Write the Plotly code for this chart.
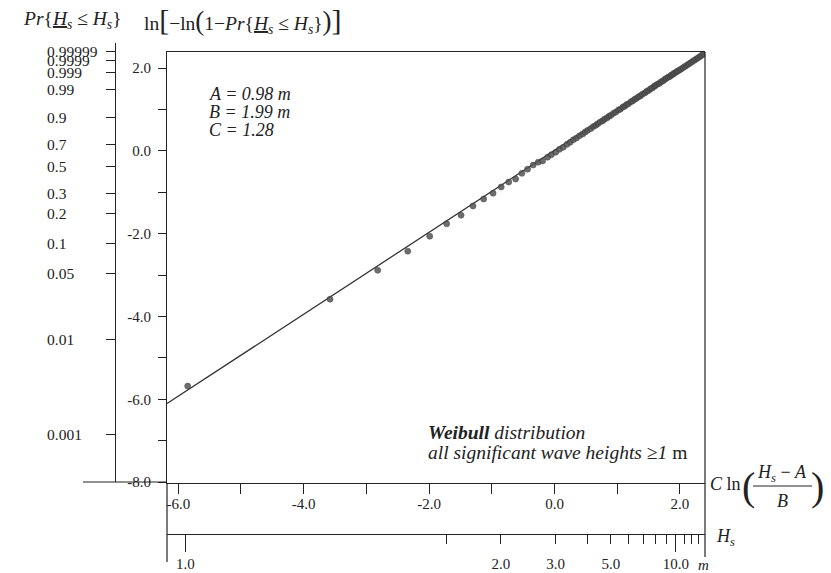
import math
import plotly.graph_objects as go

# ---------------- data ----------------
# Weibull parameters (shown on the chart)
A_PARAM = 0.98
B_PARAM = 1.99
C_PARAM = 1.28

# reduced variate x = C ln((Hs-A)/B) ; y = ln(-ln(1-Pr))
obs_x = [-5.85, -3.58, -2.82, -2.34, -1.99, -1.72, -1.49, -1.30, -1.13, -0.98,
         -0.85, -0.73, -0.62, -0.52, -0.43, -0.34, -0.26,
         -0.19, -0.11, -0.05, 0.02, 0.08, 0.14, 0.20, 0.25, 0.30, 0.35,
         0.40, 0.45, 0.49, 0.53, 0.58, 0.62, 0.66, 0.69, 0.73, 0.77,
         0.80, 0.84, 0.87, 0.90, 0.94, 0.98, 1.02, 1.05, 1.09, 1.12,
         1.15, 1.18, 1.22, 1.25, 1.28, 1.31, 1.34, 1.37, 1.40, 1.44,
         1.47, 1.50, 1.53, 1.56, 1.59, 1.61, 1.64, 1.67, 1.70, 1.73,
         1.76, 1.78, 1.81, 1.84, 1.86, 1.89, 1.91, 1.94, 1.96, 1.99,
         2.02, 2.05, 2.08, 2.11, 2.14, 2.17, 2.20, 2.23, 2.26, 2.29,
         2.32, 2.35, 2.38]
obs_y = [-5.68, -3.58, -2.88, -2.42, -2.06, -1.76, -1.55, -1.33, -1.16, -1.02,
         -0.87, -0.75, -0.68, -0.54, -0.44, -0.34, -0.27,
         -0.24, -0.15, -0.09, -0.03, 0.04, 0.09, 0.16, 0.21, 0.27, 0.31,
         0.37, 0.41, 0.46, 0.50, 0.54, 0.59, 0.62, 0.66, 0.70, 0.73,
         0.77, 0.80, 0.84, 0.86, 0.91, 0.94, 0.99, 1.01, 1.06, 1.08,
         1.12, 1.14, 1.19, 1.21, 1.25, 1.27, 1.31, 1.33, 1.37, 1.40,
         1.44, 1.46, 1.50, 1.52, 1.56, 1.58, 1.61, 1.63, 1.67, 1.69,
         1.73, 1.75, 1.78, 1.80, 1.83, 1.85, 1.88, 1.90, 1.93, 1.95,
         1.98, 2.01, 2.04, 2.07, 2.10, 2.13, 2.16, 2.19, 2.22, 2.25,
         2.28, 2.31, 2.35]

fit_x = [-6.18, 2.40]
fit_y = [-6.10, 2.39]

x_ticks = [-6, -5, -4, -3, -2, -1, 0, 1, 2]
x_ticklabels = ["-6.0", "", "-4.0", "", "-2.0", "", "0.0", "", "2.0"]
y_ticks = [-8, -7, -6, -5, -4, -3, -2, -1, 0, 1, 2]
y_ticklabels = ["-8.0", "", "-6.0", "", "-4.0", "", "-2.0", "", "0.0", "", "2.0"]
prob_labels = ["0.99999", "0.9999", "0.999", "0.99", "0.9", "0.7", "0.5",
               "0.3", "0.2", "0.1", "0.05", "0.01", "0.001"]
hs_ticks = [1.0, 1.5, 2.0, 3.0, 4.0, 5.0, 6.0, 7.0, 8.0, 9.0, 10.0, 11.0, 12.0, 13.0]
hs_labels = ["1.0", "", "2.0", "3.0", "", "5.0", "", "", "", "", "10.0", "", "", ""]
hs_major = [1.0, 10.0]

# ---------------- helpers ----------------
W, H = 831, 573
FONT = "Liberation Serif"
INK = "#222222"


def px(x):
    return x / W


def py(y):
    return 1 - y / H


def weib_x(hs):
    return C_PARAM * math.log((hs - A_PARAM) / B_PARAM)


def prob_y(p):
    return math.log(-math.log(1 - float(p)))


hs_pos = [weib_x(h) for h in hs_ticks]
hs_major_pos = [weib_x(h) for h in hs_major]
prob_pos = [prob_y(p) for p in prob_labels]

XR = [-6.18, 2.40]
YR = [-8.02, 2.39]
YR2 = [-8.08, 2.66]

fig = go.Figure()
fig.add_trace(go.Scatter(x=fit_x, y=fit_y, mode="lines",
                         line=dict(color="#333333", width=1.3),
                         hoverinfo="skip", showlegend=False))
fig.add_trace(go.Scatter(x=obs_x, y=obs_y, mode="markers",
                         marker=dict(size=6, color="#555555", opacity=0.85,
                                     line=dict(width=0.6, color="#333333")),
                         showlegend=False))
# dummy traces so the extra axes are drawn
fig.add_trace(go.Scatter(x=[None], y=[None], xaxis="x2", yaxis="y", showlegend=False))
fig.add_trace(go.Scatter(x=[None], y=[None], xaxis="x3", yaxis="y", showlegend=False))
fig.add_trace(go.Scatter(x=[None], y=[None], xaxis="x", yaxis="y2", showlegend=False))

tickfont = dict(family=FONT, size=15, color=INK)

fig.update_layout(
    width=W, height=H,
    margin=dict(l=0, r=0, t=0, b=0, autoexpand=False),
    paper_bgcolor="white", plot_bgcolor="rgba(0,0,0,0)",
    showlegend=False,
    xaxis=dict(domain=[px(167), px(705)], range=XR, anchor="y",
               tickmode="array", tickvals=x_ticks, ticktext=x_ticklabels,
               ticks="outside", ticklen=10, tickwidth=1.2, tickcolor=INK,
               showline=True, linecolor=INK, linewidth=1.2, mirror=True,
               showgrid=False, zeroline=False, tickfont=tickfont,
               ticklabelstandoff=-3, automargin=False),
    yaxis=dict(domain=[py(483), py(52)], range=YR, anchor="x",
               tickmode="array", tickvals=y_ticks, ticktext=y_ticklabels,
               ticks="outside", ticklen=8, tickwidth=1.2, tickcolor=INK,
               showline=True, linecolor=INK, linewidth=1.2,
               showgrid=False, zeroline=False, tickfont=tickfont,
               ticklabelstandoff=4, automargin=False),
    yaxis2=dict(anchor="free", position=px(115), side="left",
                domain=[py(482), py(43)],
                range=YR2, tickmode="array", tickvals=prob_pos,
                showticklabels=False, ticks="outside", ticklen=9,
                tickwidth=1.2, tickcolor=INK, showline=True, linecolor=INK,
                linewidth=1.2, showgrid=False, zeroline=False, automargin=False),
    xaxis2=dict(overlaying="x", anchor="free", position=py(534), side="bottom",
                range=XR, tickmode="array", tickvals=hs_pos, ticktext=hs_labels,
                ticks="outside", ticklen=9, tickwidth=1.2, tickcolor=INK,
                showline=True, linecolor=INK, linewidth=1.2,
                showgrid=False, zeroline=False, tickfont=tickfont,
                ticklabelstandoff=7, automargin=False),
    xaxis3=dict(overlaying="x", anchor="free", position=py(534), side="bottom",
                range=XR, tickmode="array", tickvals=hs_major_pos,
                showticklabels=False, ticks="outside", ticklen=17,
                tickwidth=1.2, tickcolor=INK, showline=False,
                showgrid=False, zeroline=False, automargin=False),
)

shapes = []


def pline(x0, y0, x1, y1, w=1.2):
    shapes.append(dict(type="line", xref="paper", yref="paper",
                       x0=px(x0), y0=py(y0), x1=px(x1), y1=py(y1),
                       line=dict(color=INK, width=w)))


pline(167, 483, 167, 562)   # left extension
pline(705, 52, 705, 557)    # right border
pline(83, 482, 167, 482)    # horizontal base line at left
pline(753, 486, 812, 486, 1.0)  # fraction bar
fig.update_layout(shapes=shapes)

ann = []


def text(x, y, s, size=15, xanchor="left", yanchor="middle", yref="paper"):
    ann.append(dict(x=px(x), y=(py(y) if yref == "paper" else y),
                    xref="paper", yref=yref, text=s, showarrow=False,
                    xanchor=xanchor, yanchor=yanchor,
                    font=dict(family=FONT, size=size, color=INK)))


for lab, pos in zip(prob_labels, prob_pos):
    text(45, pos, lab, size=15.5, yref="y2")

Hu = "<u><i>H</i></u><sub><i>s</i></sub>"
Hs = "<i>H</i><sub><i>s</i></sub>"
text(21, 20, "<i>Pr</i>{" + Hu + " ≤ " + Hs + "}", size=19.5)
text(142, 20, "ln<span style='font-size:30px'>[</span>−ln<span style='font-size:27px'>(</span>1−<i>Pr</i>{"
     + Hu + " ≤ " + Hs + "}<span style='font-size:27px'>)</span><span style='font-size:30px'>]</span>", size=19.5)

text(207, 94, "<i>A = 0.98 m</i>", size=18)
text(207, 112, "<i>B = 1.99 m</i>", size=18)
text(207, 130, "<i>C = 1.28</i>", size=18)

text(426, 432, "<b><i>Weibull</i></b><i> distribution</i>", size=19.5)
text(426, 452, "<i>all significant wave heights ≥1</i> m", size=19.5)

text(708, 484, "<i>C</i> ln", size=18)
text(748, 486, "(", size=40, xanchor="center")
text(817, 486, ")", size=40, xanchor="center")
text(782, 473, Hs + " − <i>A</i>", size=18, xanchor="center")
text(782, 501, "<i>B</i>", size=18, xanchor="center")

text(714, 537, Hs, size=18)
text(703, 565, "<i>m</i>", size=15, xanchor="center")

fig.update_layout(annotations=ann)

fig.write_html("out.html")
